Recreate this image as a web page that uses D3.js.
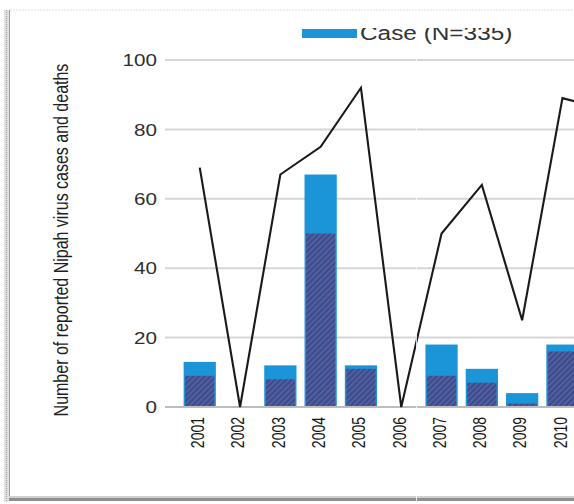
<!DOCTYPE html>
<html>
<head>
<meta charset="utf-8">
<script src="https://cdn.jsdelivr.net/npm/d3@7/dist/d3.min.js"></script>
<style>
  html, body { margin: 0; padding: 0; background: #fff; }
  svg { display: block; font-family: "Liberation Sans", Arial, sans-serif; }
</style>
</head>
<body>
<svg id="chart" width="574" height="504"></svg>
<script>
// Reported Nipah virus cases, deaths and case fatality rate (%) by year
const years = ["2001", "2002", "2003", "2004", "2005", "2006", "2007", "2008", "2009", "2010", "2011"];
const cases = [13, 0, 12, 67, 12, 0, 18, 11, 4, 18, 43];
const deaths = [9, 0, 8, 50, 11, 0, 9, 7, 1, 16, 37];
const fatalityRate = [69, 0, 67, 75, 92, 0, 50, 64, 25, 89, 86];
const yTicks = [0, 20, 40, 60, 80, 100];
const legendLabel = "Case (N=335)";
const yTitle = "Number of reported Nipah virus cases and deaths";

const caseColor = "#1b95d8";
const deathColor = "#3c4b8e";

const svg = d3.select("#chart");
const W = 574, H = 504;

const defs = svg.append("defs");
const hatch = defs.append("pattern")
  .attr("id", "deathHatch")
  .attr("patternUnits", "userSpaceOnUse")
  .attr("width", 4).attr("height", 4)
  .attr("patternTransform", "rotate(45)");
hatch.append("rect").attr("width", 4).attr("height", 4).attr("fill", deathColor);
hatch.append("rect").attr("width", 1.6).attr("height", 4).attr("fill", "#56659f");

defs.append("clipPath").attr("id", "legendClip")
  .append("rect").attr("x", 0).attr("y", 28).attr("width", W).attr("height", 30);

const x = d3.scaleBand()
  .domain(years)
  .range([179.6, 622.9])
  .paddingInner(0.2)
  .paddingOuter(0.1);

const y = d3.scaleLinear().domain([0, 100]).range([407, 60]);

// gridlines
const gridX0 = 165;
svg.append("g").selectAll("line")
  .data(yTicks.filter(d => d > 0))
  .join("line")
  .attr("x1", gridX0).attr("x2", W)
  .attr("y1", d => y(d)).attr("y2", d => y(d))
  .attr("stroke", "#d6d6d6").attr("stroke-width", 2);

// y tick labels (slightly wide lettering)
const yAxis = svg.append("g")
  .attr("transform", "translate(157,0)")
  .call(d3.axisLeft(y).tickValues(yTicks).tickSize(0).tickPadding(0));
yAxis.select(".domain").remove();
yAxis.selectAll("text")
  .attr("font-size", 16.5)
  .attr("fill", "#2e2e2e")
  .attr("font-family", "Liberation Sans, Arial, sans-serif")
  .attr("x", 0)
  .attr("dy", "0.35em")
  .attr("transform", "scale(1.25,1)");

// bars: total cases, with deaths overlaid in hatched navy
const bars = svg.append("g");
bars.selectAll("rect.case")
  .data(years.map((yr, i) => ({ yr, v: cases[i] })).filter(d => d.v > 0))
  .join("rect")
  .attr("class", "case")
  .attr("x", d => x(d.yr)).attr("width", x.bandwidth())
  .attr("y", d => y(d.v)).attr("height", d => y(0) - y(d.v))
  .attr("fill", caseColor);
bars.selectAll("rect.death")
  .data(years.map((yr, i) => ({ yr, v: deaths[i] })).filter(d => d.v > 0))
  .join("rect")
  .attr("class", "death")
  .attr("x", d => x(d.yr) + 1.5).attr("width", x.bandwidth() - 3)
  .attr("y", d => y(d.v)).attr("height", d => y(0) - y(d.v))
  .attr("fill", "url(#deathHatch)");

// baseline
svg.append("line")
  .attr("x1", gridX0).attr("x2", W)
  .attr("y1", y(0)).attr("y2", y(0))
  .attr("stroke", "#bdbdbd").attr("stroke-width", 2);

// case fatality rate line
const line = d3.line()
  .x((d, i) => x(years[i]) + x.bandwidth() / 2)
  .y(d => y(d));
svg.append("path")
  .datum(fatalityRate)
  .attr("d", line)
  .attr("fill", "none")
  .attr("stroke", "#1a1a1a")
  .attr("stroke-width", 2.1)
  .attr("stroke-linejoin", "miter");

// year labels (only those inside the panel)
svg.append("g").selectAll("text")
  .data(years.filter(d => x(d) + x.bandwidth() / 2 < W - 4))
  .join("text")
  .attr("transform", d => `translate(${x(d) + x.bandwidth() / 2 - 2},417) scale(1.35,1) rotate(-90)`)
  .attr("text-anchor", "end")
  .attr("dominant-baseline", "central")
  .attr("font-size", 14)
  .attr("fill", "#151515")
  .text(d => d);

// y axis title
svg.append("text")
  .attr("transform", `translate(61,${(63 + 417) / 2}) scale(1.28,1) rotate(-90)`)
  .attr("text-anchor", "middle")
  .attr("dominant-baseline", "central")
  .attr("font-size", 16)
  .attr("fill", "#1e1e1e")
  .text(yTitle);

// legend
const legend = svg.append("g");
legend.append("rect")
  .attr("x", 302).attr("y", 29).attr("width", 55).attr("height", 9)
  .attr("fill", caseColor);
legend.append("g")
  .attr("clip-path", "url(#legendClip)")
  .append("text")
  .attr("transform", "translate(360,39.5) scale(1.25,1)")
  .attr("font-size", 19.5)
  .attr("fill", "#333")
  .text(legendLabel);

// panel frame
svg.append("line").attr("x1", 10).attr("x2", W).attr("y1", 10).attr("y2", 10)
  .attr("stroke", "#e2e2e2").attr("stroke-width", 1.2).attr("stroke-dasharray", "2,1");
svg.append("rect").attr("x", 4).attr("y", 10).attr("width", 5).attr("height", 492)
  .attr("fill", "#e4e4e4");
svg.append("line").attr("x1", 6.5).attr("x2", 6.5).attr("y1", 10).attr("y2", 502)
  .attr("stroke", "#a8a8a8").attr("stroke-width", 1.5).attr("stroke-dasharray", "1,1");
svg.append("line").attr("x1", 9.5).attr("x2", 9.5).attr("y1", 10).attr("y2", 500)
  .attr("stroke", "#9a9a9a").attr("stroke-width", 1);
svg.append("rect").attr("x", 9).attr("y", 496).attr("width", W - 9).attr("height", 2)
  .attr("fill", "#d0d0d0");
svg.append("rect").attr("x", 9).attr("y", 498).attr("width", W - 9).attr("height", 3)
  .attr("fill", "#8f8f8f");
svg.append("line").attr("x1", 416.5).attr("x2", 416.5).attr("y1", 10).attr("y2", 504)
  .attr("stroke", "#ffffff").attr("stroke-width", 1).attr("opacity", 0.8);
</script>
</body>
</html>
